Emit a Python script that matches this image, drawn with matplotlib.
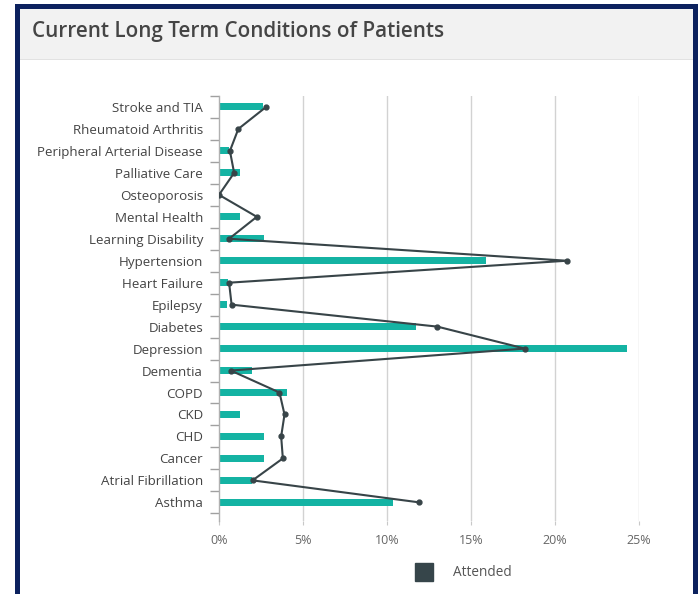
import matplotlib
matplotlib.use("Agg")
import matplotlib.pyplot as plt
from matplotlib.patches import Rectangle
from matplotlib.lines import Line2D
from matplotlib.ticker import FuncFormatter
import numpy as np

categories = [
    "Stroke and TIA", "Rheumatoid Arthritis", "Peripheral Arterial Disease",
    "Palliative Care", "Osteoporosis", "Mental Health", "Learning Disability",
    "Hypertension", "Heart Failure", "Epilepsy", "Diabetes", "Depression",
    "Dementia", "COPD", "CKD", "CHD", "Cancer", "Atrial Fibrillation", "Asthma",
]
registered = [2.6, 0, 0.6, 1.25, 0, 1.25, 2.65, 15.9, 0.55, 0.5, 11.7, 24.3,
              1.95, 4.05, 1.25, 2.65, 2.65, 1.95, 10.35]
attended = [2.8, 1.15, 0.65, 0.9, 0, 2.25, 0.6, 20.7, 0.6, 0.75, 13.0, 18.2,
            0.7, 3.6, 3.9, 3.7, 3.8, 2.0, 11.9]
x_ticks = [0, 5, 10, 15, 20, 25]

plt.rcParams['font.family'] = ['Open Sans', 'DejaVu Sans']

W, H = 698, 594
fig = plt.figure(figsize=(W / 100, H / 100), dpi=100)

def px(x0, y0, x1, y1):
    # pixel box (top-left origin) -> figure fraction rect
    return (x0 / W, 1 - y1 / H), (x1 - x0) / W, (y1 - y0) / H

# card frame
for (x0, y0, x1, y1), col in [((15, 4, 698, 600), "#0c215e"),
                              ((20, 9, 693, 600), "white"),
                              ((20, 9, 693, 59), "#f2f2f2"),
                              ((20, 59, 693, 60), "#e2e2e2")]:
    xy, w, h = px(x0, y0, x1, y1)
    fig.patches.append(Rectangle(xy, w, h, transform=fig.transFigure,
                                 facecolor=col, edgecolor="none", zorder=-5))

fig.text(32 / W, 1 - 31 / H, "Current Long Term Conditions of Patients",
         fontsize=14.9, fontweight="semibold", color="#454545",
         va="center", ha="left")

ax_x0, ax_x1, ax_y0, ax_y1 = 219, 639, 96, 521
xy, w, h = px(ax_x0, ax_y0, ax_x1, ax_y1)
ax = fig.add_axes([xy[0], xy[1], w, h])
ax.set_zorder(5)
ax.set_facecolor("none")

y = np.arange(len(categories))
ax.barh(y, registered, height=0.32, color="#14b3a3", zorder=2)
ax.plot(attended, y, color="#384448", lw=1.5, marker="o", ms=3.5, zorder=3)

ax.set_xlim(0, 25)
ax.set_ylim(18.85, -0.5)
ax.set_xticks(x_ticks)
ax.xaxis.set_major_formatter(FuncFormatter(lambda v, p: f"{int(v)}%"))
ax.set_yticks(y)
ax.set_yticklabels(categories)
ax.set_yticks(np.arange(-0.5, 18.6, 1), minor=True)

ax.tick_params(axis="y", which="major", length=0, pad=11.5, labelsize=9.6,
               labelcolor="#444444")
ax.tick_params(axis="y", which="minor", length=6.5, width=1, color="#a0a0a0")
ax.tick_params(axis="x", length=3, color="#c8c8c8", labelsize=9,
               labelcolor="#666666", pad=6)

for s in ax.spines.values():
    s.set_visible(False)
ax.spines["left"].set_visible(True)
ax.spines["left"].set_color("#b0b0b0")
ax.spines["left"].set_linewidth(1)
for t in x_ticks[1:]:
    ax.axvline(t, color="#d2d2d2", lw=1, zorder=1)

handle = Line2D([], [], marker="s", linestyle="none", markersize=13,
                markerfacecolor="#36454a", markeredgecolor="#36454a")
fig.legend([handle], ["Attended"], loc="center", bbox_to_anchor=(461 / W, 1 - 573 / H),
           frameon=False, fontsize=9.8, labelcolor="#555555", handletextpad=1.1)

fig.savefig("out.png", dpi=100)
